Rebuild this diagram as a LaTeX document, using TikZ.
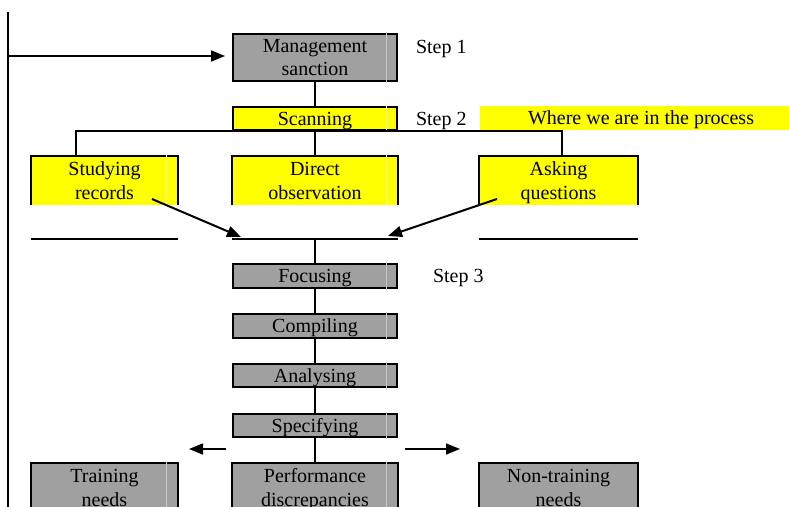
\documentclass[tikz,border=0pt]{standalone}
\usepackage{fontspec}
\setmainfont{Liberation Serif}
\usetikzlibrary{arrows.meta}
\definecolor{boxgray}{RGB}{160,160,160}
\definecolor{seamgray}{RGB}{200,200,200}
\definecolor{hiyellow}{RGB}{255,255,0}
\definecolor{seamyellow}{RGB}{255,255,170}

\begin{document}
\begin{tikzpicture}[x=1pt,y=-1pt,line width=2pt,
  font=\fontsize{20}{23.3}\selectfont,
  box/.style={rectangle,inner sep=0pt,align=center,line width=2pt},
  oneline/.style={text height=15pt,text depth=2pt},
  twoline/.style={text height=38pt,text depth=2pt},
  graybox/.style={box,draw=black,fill=boxgray},
  yelbox/.style={box,draw=black,fill=hiyellow},
  openyel/.style={box,fill=hiyellow},
  opengray/.style={box,fill=boxgray},
  steplabel/.style={anchor=base west,inner sep=0pt},
  link/.style={draw=black,line width=2pt},
  arrowlink/.style={link,-{Triangle[length=14pt,width=11pt]}},
  smallarrow/.style={draw=black,line width=1.5pt,-{Triangle[length=14pt,width=11pt]}},
  seam/.style={line width=1pt}
]
\useasboundingbox (0,0) rectangle (789,506);
\clip (0,0) rectangle (789,506);

% step 1 and step 2 boxes
\node[graybox,twoline,minimum width=164pt,minimum height=47pt] (mgmt) at (315,57.5) {Management\\sanction};
\node[yelbox,oneline,minimum width=164pt,minimum height=23pt] (scan) at (315,118.5) {Scanning};

% highlight band
\node[box,oneline,fill=hiyellow,minimum width=322pt,minimum height=24pt,anchor=west] (where) at (479,118) {Where we are in the process};

% scanning methods (lower part of the cells blanked)
\node[openyel,twoline,minimum width=145pt,minimum height=48pt,anchor=north] (study) at (104.5,156) {Studying\\records};
\node[openyel,twoline,minimum width=164pt,minimum height=48pt,anchor=north] (direct) at (315,156) {Direct\\observation};
\node[openyel,twoline,minimum width=157pt,minimum height=48pt,anchor=north] (ask) at (558.5,156) {Asking\\questions};
\foreach \n in {study,direct,ask}
  \draw[link] ([yshift=1pt]\n.south west) -- (\n.north west) -- (\n.north east) -- ([yshift=1pt]\n.south east);

% cell base lines
\coordinate (studyL) at (31,239);  \coordinate (studyR) at (178,239);
\coordinate (midL) at (232,239);   \coordinate (midR) at (398,239);
\coordinate (askL) at (479,239);   \coordinate (askR) at (638,239);
\draw[link] (studyL) -- (studyR);
\draw[link] (midL) -- (midR);
\draw[link] (askL) -- (askR);
\coordinate (mid) at (315,239);

% step 3 boxes
\node[graybox,oneline,minimum width=164pt,minimum height=24pt] (focus) at (315,276) {Focusing};
\node[graybox,oneline,minimum width=164pt,minimum height=24pt] (compile) at (315,326) {Compiling};
\node[graybox,oneline,minimum width=164pt,minimum height=23pt] (analyse) at (315,375.5) {Analysing};
\node[graybox,oneline,minimum width=164pt,minimum height=23pt] (specify) at (315,425.5) {Specifying};

% outcome boxes (running past the bottom edge)
\node[opengray,twoline,minimum width=145pt,minimum height=48pt,anchor=north] (train) at (104.5,463) {Training\\needs};
\node[opengray,twoline,minimum width=164pt,minimum height=48pt,anchor=north] (perf) at (315,463) {Performance\\discrepancies};
\node[opengray,twoline,minimum width=157pt,minimum height=48pt,anchor=north] (nontrain) at (558.5,463) {Non-training\\needs};
\foreach \n in {train,perf,nontrain}
  \draw[link] (\n.south west) -- (\n.north west) -- (\n.north east) -- (\n.south east);

% faint cell seams
\foreach \n in {mgmt,focus,compile,analyse,specify}
  \draw[seam,seamgray] ([xshift=-12pt,yshift=1pt]\n.north east) -- ([xshift=-12pt,yshift=-1pt]\n.south east);
\draw[seam,seamgray] ([xshift=-12pt,yshift=1pt]perf.north east) -- ([xshift=-12pt]perf.south east);
\draw[seam,seamgray] ([xshift=-12pt,yshift=1pt]train.north east) -- ([xshift=-12pt]train.south east);
\draw[seam,seamyellow] ([xshift=-12pt,yshift=1pt]scan.north east) -- ([xshift=-12pt,yshift=-1pt]scan.south east);
\draw[seam,seamyellow] ([xshift=-12pt,yshift=1pt]direct.north east) -- ([xshift=-12pt]direct.south east);
\draw[seam,seamyellow] ([xshift=-12pt,yshift=1pt]study.north east) -- ([xshift=-12pt]study.south east);

% step labels
\node[steplabel] (s1) at (415,53) {Step 1};
\node[steplabel] (s2) at (415,125) {Step 2};
\node[steplabel] (s3) at (432,282.5) {Step 3};

% feedback line on the left
\coordinate (loopTop) at (8,12);
\coordinate (loopBot) at (8,520);
\coordinate (loopIn) at (8,56);
\draw[link] (loopTop) -- (loopBot);
\draw[arrowlink,shorten >=7pt] (loopIn) -- (mgmt.west |- loopIn);

% connectors
\draw[link] (mgmt.south) -- (scan.north);
\coordinate (branchL) at (76,130.5);
\coordinate (branchR) at (562,130.5);
\draw[link] (branchL |- study.north) -- (branchL) -- (branchR) -- (branchR |- ask.north);
\draw[link] (scan.south) -- (direct.north);

\coordinate (studyOut) at (152,199);
\coordinate (askOut) at (497,199);
\draw[arrowlink] (studyOut) -- (241,237);
\draw[arrowlink] (askOut) -- (388,236);

\draw[link] (mid) -- (focus.north);
\draw[link] (focus.south) -- (compile.north);
\draw[link] (compile.south) -- (analyse.north);
\draw[link] (analyse.south) -- (specify.north);
\draw[link] (specify.south) -- (perf.north);

% side arrows towards the outcomes
\coordinate (leftFrom) at (226,449);
\coordinate (leftTo) at (189,449);
\coordinate (rightFrom) at (405,449);
\coordinate (rightTo) at (460,449);
\draw[smallarrow] (leftFrom) -- (leftTo);
\draw[smallarrow] (rightFrom) -- (rightTo);
\end{tikzpicture}
\end{document}
